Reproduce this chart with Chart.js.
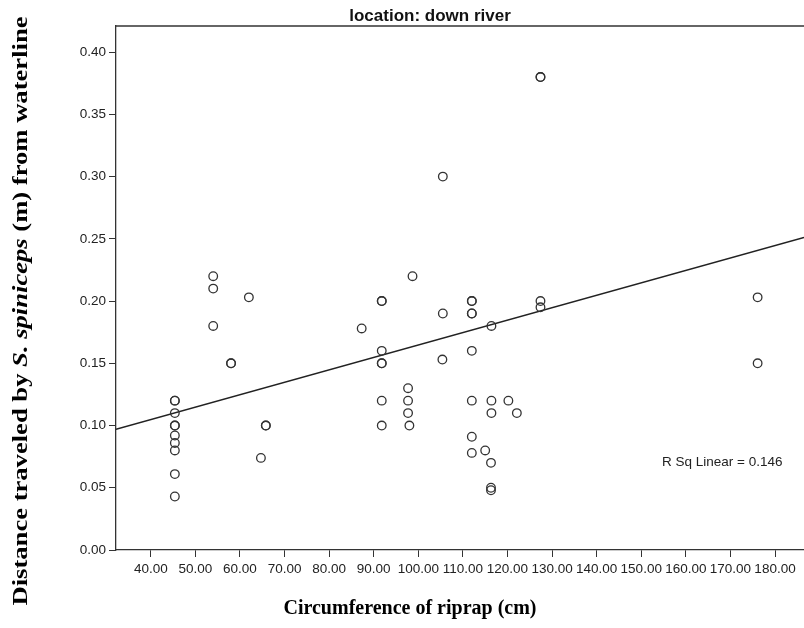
<!DOCTYPE html>
<html>
<head>
<meta charset="utf-8">
<script src="https://cdn.jsdelivr.net/npm/chart.js@4"></script>
<style>
  html, body { margin: 0; padding: 0; background: #fff; }
  #wrap { width: 804px; height: 628px; position: relative; overflow: hidden; }
</style>
</head>
<body>
<div id="wrap"><canvas id="riprapChart" width="804" height="628"></canvas></div>
<script>
// circumference (cm) and distance (m), one entry per fish (duplicates overlap)
const circumference = [
    45.4, 45.4, 45.4, 45.4, 45.4, 45.4, 45.4, 45.4, 45.4, 45.4,
    54.0, 54.0, 54.0,
    58.0, 58.0,
    62.0, 64.7, 65.8, 65.8,
    87.3,
    91.8, 91.8, 91.8, 91.8, 91.8, 91.8, 91.8,
    97.7, 97.7, 97.7, 98.0,
    98.7,
    105.5, 105.5, 105.4,
    112.0, 112.0, 112.0, 112.0, 112.0, 112.0, 112.0, 112.0,
    115.0,
    116.4, 116.4, 116.4, 116.3, 116.3, 116.3,
    120.2, 122.1,
    127.4, 127.4, 127.4, 127.4,
    176.1, 176.1
];
const distance = [
    0.120, 0.120, 0.110, 0.100, 0.100, 0.092, 0.086, 0.080, 0.061, 0.043,
    0.220, 0.210, 0.180,
    0.150, 0.150,
    0.203, 0.074, 0.100, 0.100,
    0.178,
    0.200, 0.200, 0.160, 0.150, 0.150, 0.120, 0.100,
    0.130, 0.120, 0.110, 0.100,
    0.220,
    0.300, 0.190, 0.153,
    0.200, 0.200, 0.190, 0.190, 0.160, 0.120, 0.091, 0.078,
    0.080,
    0.180, 0.120, 0.110, 0.070, 0.050, 0.048,
    0.120, 0.110,
    0.380, 0.380, 0.200, 0.195,
    0.203, 0.150
];

// fit line end points
const fitX = [32.2, 186.5];
const fitY = [0.097, 0.251];

const xTicks = [40, 50, 60, 70, 80, 90, 100, 110, 120, 130, 140, 150, 160, 170, 180];
const yTicks = [0, 0.05, 0.10, 0.15, 0.20, 0.25, 0.30, 0.35, 0.40];

const chartTitle = 'location: down river';
const rSqText = 'R Sq Linear = 0.146';

const points = circumference.map((c, i) => ({ x: c, y: distance[i] }));
const fitLine = fitX.map((x, i) => ({ x: x, y: fitY[i] }));

const tickFont = { family: '"Liberation Sans", Arial, sans-serif', size: 13.5 };

// Extra text: titles with mixed italics, plot top border, R Sq label
const decorPlugin = {
    id: 'decor',
    afterDraw(chart) {
        const ctx = chart.ctx;
        const area = chart.chartArea;
        ctx.save();

        // top border of plot frame
        ctx.strokeStyle = '#333';
        ctx.lineWidth = 1.3;
        ctx.beginPath();
        ctx.moveTo(area.left, area.top);
        ctx.lineTo(area.right, area.top);
        ctx.stroke();

        // chart title
        ctx.fillStyle = '#111';
        ctx.font = 'bold 17px "Liberation Sans", Arial, sans-serif';
        ctx.textAlign = 'center';
        ctx.textBaseline = 'alphabetic';
        ctx.fillText(chartTitle, 430, 21);

        // R Sq label
        ctx.font = '13.5px "Liberation Sans", Arial, sans-serif';
        ctx.textAlign = 'left';
        ctx.textBaseline = 'middle';
        ctx.fillStyle = '#222';
        ctx.fillText(rSqText, 662, 462);

        // x axis title
        ctx.fillStyle = '#000';
        ctx.font = 'bold 20px "Liberation Serif", "Times New Roman", serif';
        ctx.textAlign = 'center';
        ctx.textBaseline = 'alphabetic';
        ctx.fillText('Circumference of riprap (cm)', 410, 614);

        // y axis title, rotated and stretched along its length, italic species name
        const parts = [
            { t: 'Distance traveled by ', f: 'bold 20px "Liberation Serif", serif' },
            { t: 'S. spiniceps', f: 'bold italic 20px "Liberation Serif", serif' },
            { t: ' (m) from waterline', f: 'bold 20px "Liberation Serif", serif' }
        ];
        let total = 0;
        parts.forEach(p => { ctx.font = p.f; p.w = ctx.measureText(p.t).width; total += p.w; });
        ctx.translate(27, 311);
        ctx.rotate(-Math.PI / 2);
        ctx.scale(1.33, 1);
        ctx.textAlign = 'left';
        let pos = -total / 2;
        parts.forEach(p => {
            ctx.font = p.f;
            ctx.fillText(p.t, pos, 0);
            pos += p.w;
        });
        ctx.restore();
    }
};

const ctx = document.getElementById('riprapChart').getContext('2d');
const riprapChart = new Chart(ctx, {
    type: 'scatter',
    data: {
        datasets: [{
            label: 'Observed',
            data: points,
            borderColor: '#333',
            backgroundColor: 'rgba(0,0,0,0)',
            borderWidth: 1.3,
            pointRadius: 4.3,
            pointHoverRadius: 4.3
        }, {
            type: 'line',
            label: 'Linear fit',
            data: fitLine,
            borderColor: '#222',
            borderWidth: 1.5,
            pointRadius: 0,
            fill: false
        }]
    },
    options: {
        responsive: false,
        animation: false,
        layout: {
            autoPadding: false,
            padding: { top: 26, right: 0, left: 0, bottom: 0 }
        },
        plugins: {
            legend: { display: false },
            tooltip: { enabled: false }
        },
        scales: {
            x: {
                type: 'linear',
                min: 32.2,
                max: 186.5,
                afterBuildTicks(scale) {
                    scale.ticks = xTicks.map(v => ({ value: v }));
                },
                afterFit(scale) {
                    scale.height = 78;
                },
                grid: {
                    drawOnChartArea: false,
                    drawTicks: true,
                    tickLength: 7,
                    color: '#333'
                },
                border: { color: '#333', width: 1.3 },
                ticks: {
                    color: '#222',
                    padding: 4,
                    maxRotation: 0,
                    autoSkip: false,
                    font: tickFont,
                    callback: v => v.toFixed(2)
                }
            },
            y: {
                min: 0,
                max: 0.421,
                afterBuildTicks(scale) {
                    scale.ticks = yTicks.map(v => ({ value: v }));
                },
                afterFit(scale) {
                    scale.width = 116;
                },
                grid: {
                    drawOnChartArea: false,
                    drawTicks: true,
                    tickLength: 7,
                    color: '#333'
                },
                border: { color: '#333', width: 1.3 },
                ticks: {
                    color: '#222',
                    padding: 3,
                    autoSkip: false,
                    font: tickFont,
                    callback: v => v.toFixed(2)
                }
            }
        }
    },
    plugins: [decorPlugin]
});
</script>
</body>
</html>
